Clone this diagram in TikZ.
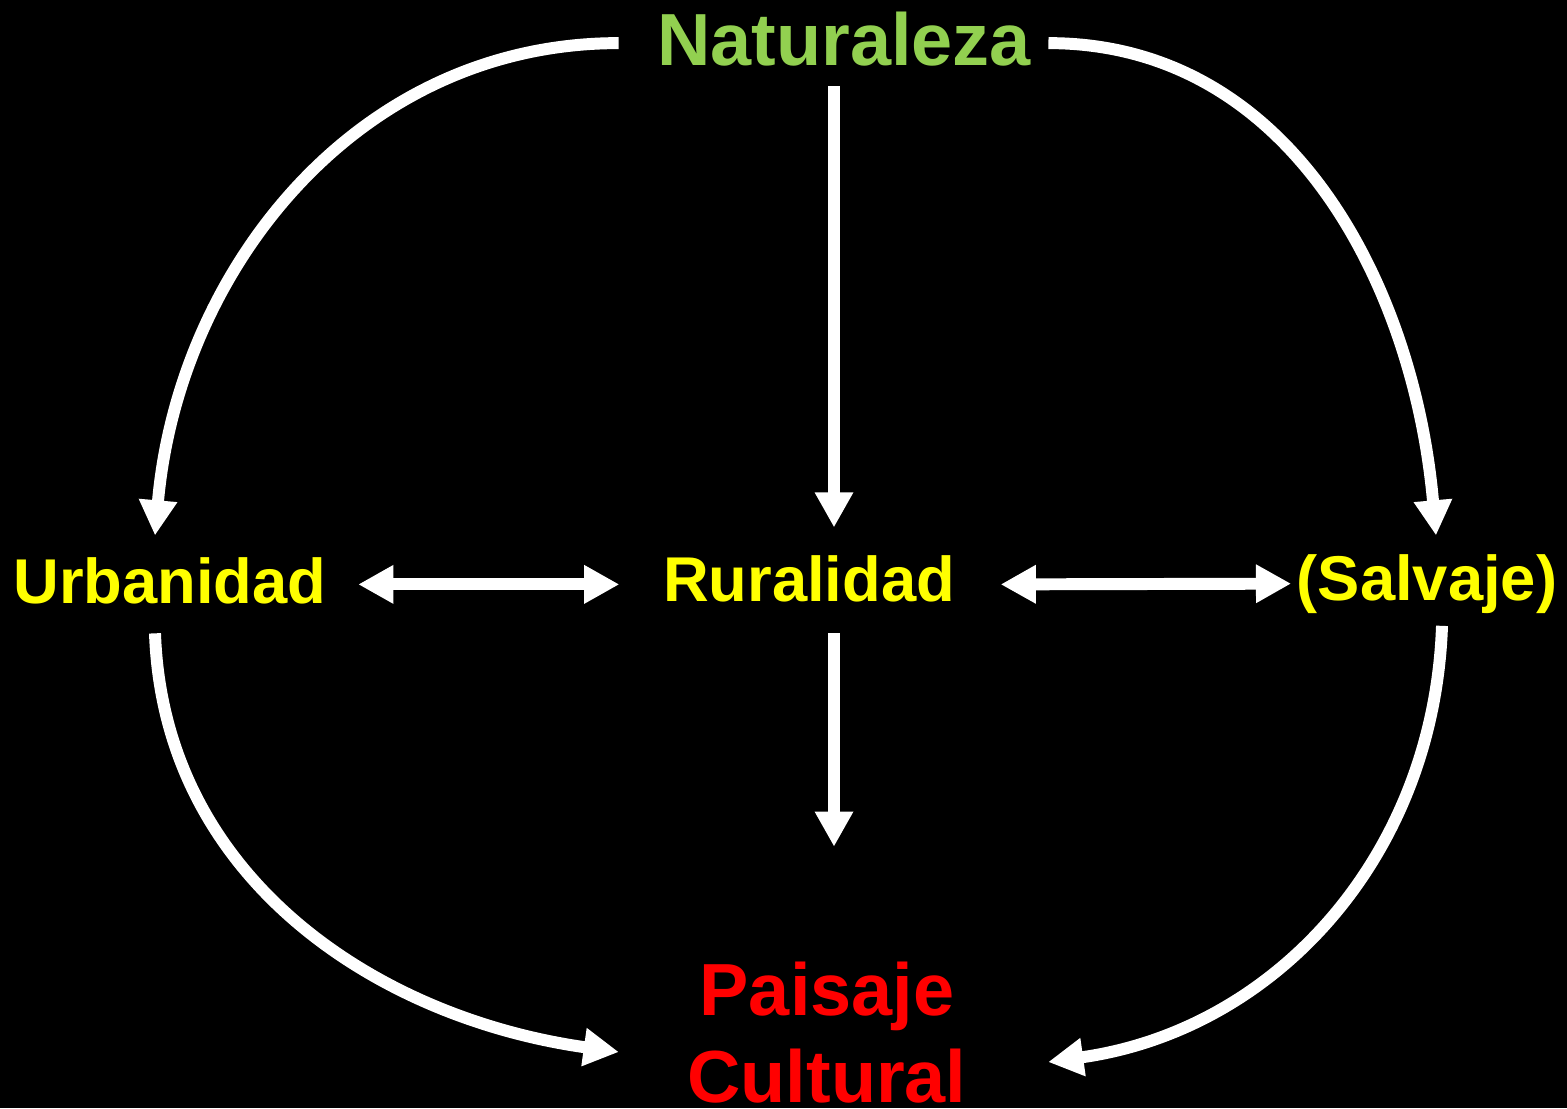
\documentclass[tikz,border=0pt]{standalone}
\usepackage{fontspec}
\setmainfont{Liberation Sans}
\usepackage{tikz}
\usetikzlibrary{arrows.meta, calc}
\definecolor{leaf}{HTML}{92D050}
\definecolor{sun}{HTML}{FFFF00}
\definecolor{blood}{HTML}{FF0000}
\tikzstyle{concept} = [inner sep=0pt, anchor=base, text=sun, font=\bfseries\fontsize{18}{21}\selectfont]
\tikzstyle{big} = [concept, font=\bfseries\fontsize{21}{24.75}\selectfont]
\tikzstyle{arrow} = [white, line width=3.4pt, -{Triangle[length=10pt, width=10.3pt]}]
\tikzstyle{twoway} = [arrow, {Triangle[length=10pt, width=10.3pt]}-{Triangle[length=10pt, width=10.3pt]}]

\begin{document}
\begin{tikzpicture}[x=0.01cm, y=0.01cm]
    % Black page
    \fill[black] (0,0) rectangle (1567,-1108);
    \useasboundingbox (0,0) rectangle (1567,-1108);

    % Concepts
    \node[big, text=leaf] (nat) at (844,-65) {Naturaleza};
    \node[concept] (urb) at (170,-603) {Urbanidad};
    \node[concept] (rur) at (809,-601) {Ruralidad};
    \node[concept] (sal) at (1427,-600) {(Salvaje)};
    \node[big, text=blood, align=center, anchor=center] (pai) at (827,-1033) {Paisaje\\Cultural};

    % Straight arrows
    \draw[arrow] ($(nat.south)+(-10,-20)$) -- ($(rur.north)+(25,27)$);
    \draw[arrow] ($(rur.south)+(25,-31)$) -- ($(pai.north)+(7,115)$);
    \draw[twoway] ($(urb.east)+(31,-4)$) -- ($(rur.west)+(-43,-6)$);
    \draw[twoway] ($(rur.east)+(45,-6)$) -- ($(sal.west)+(-5,0)$);

    % Curved arrows
    \draw[arrow] ($(nat.west)+(-38,-4.5)$) to[out=180, in=85] ($(urb.north)+(-15,21)$);
    \draw[arrow] ($(nat.east)+(17,-4.5)$) to[out=0, in=95] ($(sal.north)+(9,18)$);
    \draw[arrow] ($(urb.south)+(-15,-29)$) to[out=-88, in=172] ($(pai.west)+(-68,-19)$);
    \draw[arrow] ($(sal.south)+(15,-12)$) to[out=-92, in=8] ($(pai.east)+(81,-29)$);

\end{tikzpicture}
\end{document}
